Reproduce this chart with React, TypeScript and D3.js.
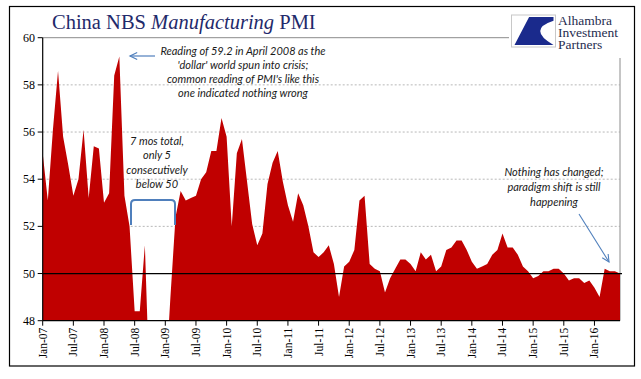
import React from "react";
import * as d3 from "d3";

// Monthly China NBS Manufacturing PMI, Jan-07 .. Jun-16
const pmi = [
  55.1, 53.1, 56.1, 58.6, 55.8, 54.6, 53.3, 54.0, 56.1, 53.2, 55.4, 55.3,
  53.0, 53.4, 58.4, 59.2, 53.3, 52.0, 48.4, 48.4, 51.2, 44.6, 38.8, 41.2,
  45.3, 49.0, 52.4, 53.5, 53.1, 53.2, 53.3, 54.0, 54.3, 55.2, 55.2, 56.6,
  55.8, 52.0, 55.1, 55.7, 53.9, 52.1, 51.2, 51.7, 53.8, 54.7, 55.2, 53.9,
  52.9, 52.2, 53.4, 52.9, 52.0, 50.9, 50.7, 50.9, 51.2, 50.4, 49.0, 50.3,
  50.5, 51.0, 53.1, 53.3, 50.4, 50.2, 50.1, 49.2, 49.8, 50.2, 50.6, 50.6,
  50.4, 50.1, 50.9, 50.6, 50.8, 50.1, 50.3, 51.0, 51.1, 51.4, 51.4, 51.0,
  50.5, 50.2, 50.3, 50.4, 50.8, 51.0, 51.7, 51.1, 51.1, 50.8, 50.3, 50.1,
  49.8, 49.9, 50.1, 50.1, 50.2, 50.2, 50.0, 49.7, 49.8, 49.8, 49.6, 49.7,
  49.4, 49.0, 50.2, 50.1, 50.1, 50.0,
];
const xTickLabels = [
  "Jan-07", "Jul-07", "Jan-08", "Jul-08", "Jan-09", "Jul-09", "Jan-10", "Jul-10",
  "Jan-11", "Jul-11", "Jan-12", "Jul-12", "Jan-13", "Jul-13", "Jan-14", "Jul-14",
  "Jan-15", "Jul-15", "Jan-16",
];
const xTickMonthIndex = xTickLabels.map((_, i) => i * 6);
const yTicks = [48, 50, 52, 54, 56, 58, 60];
const gridValues = [52, 54, 56, 58];
const note1 = [
  "Reading of 59.2 in April 2008 as the",
  "'dollar' world spun into crisis;",
  "common reading of PMI's like this",
  "one indicated nothing wrong",
];
const note2 = ["7 mos total,", "only 5", "consecutively", "below 50"];
const note3 = ["Nothing has changed;", "paradigm shift is still", "happening"];
const logoLines = ["Alhambra", "Investment", "Partners"];

const W = 641;
const H = 379;
const left = 42.7;
const right = 620;
const top = 37.7;
const bottom = 320.7;

export default function App() {
  const x = d3.scaleLinear().domain([0, pmi.length - 1]).range([left, right]);
  const y = d3.scaleLinear().domain([48, 60]).range([bottom, top]);
  const area = d3
    .area<number>()
    .x((_, i) => x(i))
    .y0(y(48))
    .y1((d) => y(d));

  const red = "#c00000";
  const navy = "#1f2a6b";
  const blue = "#4f7fbc";
  const noteFont = "Lato, 'Open Sans', sans-serif";

  const arrowHead = (x1: number, y1: number, x2: number, y2: number, len = 8, ang = 0.45) => {
    const a = Math.atan2(y1 - y2, x1 - x2);
    const p1 = [x2 + len * Math.cos(a + ang), y2 + len * Math.sin(a + ang)];
    const p2 = [x2 + len * Math.cos(a - ang), y2 + len * Math.sin(a - ang)];
    return `M${p1[0]},${p1[1]}L${x2},${y2}L${p2[0]},${p2[1]}`;
  };

  const lx = 511.5, ly = 15, lw = 44, lh = 32;

  return (
    <div style={{ position: "fixed", left: 0, top: 0 }}>
      <svg width={W} height={H} style={{ display: "block", background: "#fff" }}>
        <defs>
          <clipPath id="plotclip">
            <rect x={left} y={top} width={right - left} height={bottom - top} />
          </clipPath>
        </defs>
        <rect x={9.5} y={6.5} width={625} height={359.5} fill="none" stroke="#000" strokeWidth={1.2} />

        <text x={52} y={29} fontFamily="'Liberation Serif', serif" fontSize={20.5} fill={navy}>
          China NBS <tspan fontStyle="italic">Manufacturing</tspan> PMI
        </text>

        <line x1={left} x2={509} y1={top} y2={top} stroke="#8c8c8c" strokeWidth={1} />
        <line x1={right} x2={right} y1={58} y2={bottom} stroke="#8c8c8c" strokeWidth={1} />

        {gridValues.map((v) => (
          <line key={v} x1={left} x2={right} y1={y(v)} y2={y(v)} stroke="#a6a6a6" strokeWidth={0.8} strokeDasharray="2,2" />
        ))}

        <path d={area(pmi) || ""} fill={red} clipPath="url(#plotclip)" />

        <line x1={left} x2={622} y1={y(50)} y2={y(50)} stroke="#000" strokeWidth={1.2} />

        <line x1={left} x2={left} y1={top} y2={bottom} stroke="#000" strokeWidth={1.2} />
        {yTicks.map((v) => (
          <g key={v}>
            <line x1={left - 5} x2={left} y1={y(v)} y2={y(v)} stroke="#000" strokeWidth={1} />
            <text x={35} y={y(v) + 4} textAnchor="end" fontFamily="'Liberation Serif', serif" fontSize={12} fill="#000">
              {v}
            </text>
          </g>
        ))}

        <line x1={left} x2={right} y1={bottom} y2={bottom} stroke="#000" strokeWidth={1.2} />
        {xTickLabels.map((lab, i) => {
          const xi = x(xTickMonthIndex[i]);
          return (
            <g key={lab}>
              <line x1={xi} x2={xi} y1={bottom} y2={bottom + 5} stroke="#000" strokeWidth={1} />
              <text
                transform={`translate(${xi + 4},${bottom + 7}) rotate(-90)`}
                textAnchor="end"
                fontFamily="'Liberation Serif', serif"
                fontSize={11.5}
                fill="#000"
              >
                {lab}
              </text>
            </g>
          );
        })}

        {note1.map((t, i) => (
          <text key={t} x={243} y={55 + i * 14} textAnchor="middle" fontFamily={noteFont} fontStyle="italic" fontSize={11} fill="#1a1a1a">
            {t}
          </text>
        ))}
        <line x1={155} x2={130} y1={56} y2={56} stroke={blue} strokeWidth={1.2} />
        <path d={arrowHead(155, 56, 130, 56)} fill="none" stroke={blue} strokeWidth={1.2} />

        {note2.map((t, i) => (
          <text key={t} x={157} y={145 + i * 14.4} textAnchor="middle" fontFamily={noteFont} fontStyle="italic" fontSize={11} fill="#1a1a1a">
            {t}
          </text>
        ))}
        <path
          d="M131,225 L131,204 Q131,200 135,200 L171,200 Q175,200 175,204 L175,225"
          fill="none"
          stroke={blue}
          strokeWidth={2}
        />

        {note3.map((t, i) => (
          <text key={t} x={554} y={176 + i * 15} textAnchor="middle" fontFamily={noteFont} fontStyle="italic" fontSize={11} fill="#1a1a1a">
            {t}
          </text>
        ))}
        <line x1={579} x2={609} y1={214} y2={262} stroke={blue} strokeWidth={1.1} />
        <path d={arrowHead(579, 214, 609, 262)} fill="none" stroke={blue} strokeWidth={1.1} />

        <rect x={lx} y={ly} width={lw} height={lh} fill="#fff" stroke="#c8c8c8" strokeWidth={1} />
        <path
          d={`M${lx + lw * 0.4},${ly + 2} L${lx + lw - 2},${ly + 2} L${lx + lw - 2},${ly + lh * 0.18}
             Q${lx + lw * 0.35},${ly + lh * 0.45} ${lx + lw - 2},${ly + lh - 2}
             L${lx + 3},${ly + lh - 2} Z`}
          fill="#1a2a8c"
        />
        {logoLines.map((t, i) => (
          <text key={t} x={558} y={25 + i * 12} fontFamily="'Liberation Serif', serif" fontSize={13.5} fill="#1f2d50">
            {t}
          </text>
        ))}
      </svg>
    </div>
  );
}
